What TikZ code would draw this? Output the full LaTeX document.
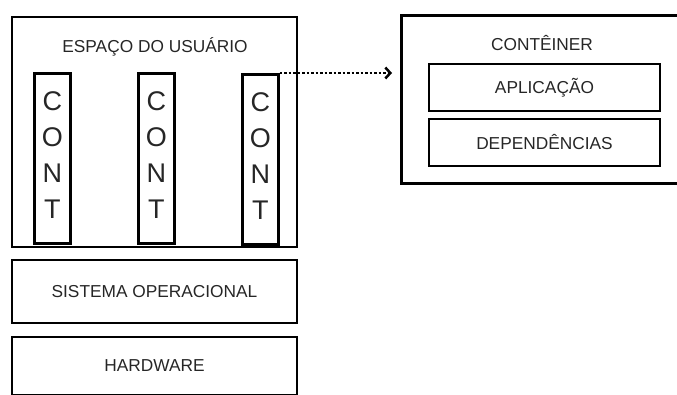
\documentclass[tikz,border=0pt]{standalone}
\usepackage{fontspec}
\setmainfont{Liberation Sans}
\usetikzlibrary{arrows.meta}

\begin{document}
\begin{tikzpicture}[x=1pt,y=-1pt,
  layer/.style={draw,line width=2.5pt,rectangle,inner sep=0pt,text=black!85,font=\fontsize{17.3}{20}\selectfont},
  cont/.style={draw,line width=2.5pt,inner sep=0pt,minimum width=36,align=center,text=black!85,
    font=\fontsize{27}{36}\selectfont,text height=145,text depth=25,anchor=north west},
  lbl/.style={text=black!85,font=\fontsize{17.3}{20}\selectfont,anchor=base,inner sep=0pt},
  link/.style={line width=2.5pt,dash pattern=on 2.5pt off 2pt,
    -{Straight Barb[length=5pt,width=11pt,line width=2.5pt]}}]
  \useasboundingbox (0,0) rectangle (677,394);
  \clip (0,0) rectangle (677,394);
  % host stack
  \node[layer,minimum width=285,minimum height=230] (user) at (154.5,132) {};
  \node[lbl] (userlbl) at (155,52) {ESPAÇO DO USUÁRIO};
  \node[cont] (c1) at (33,72) {C\\O\\N\\T};
  \node[cont] (c2) at (137,72) {C\\O\\N\\T};
  \node[cont] (c3) at (241,73) {C\\O\\N\\T};
  \node[layer,minimum width=285,minimum height=63] (os) at (154.5,291.5) {SISTEMA OPERACIONAL};
  \node[layer,minimum width=285,minimum height=58] (hw) at (154.5,366) {HARDWARE};
  % container detail
  \node[layer,minimum width=300,minimum height=168,anchor=north west] (box) at (400,14) {};
  \node[lbl] (boxlbl) at (542,50) {CONTÊINER};
  \node[layer,minimum width=231,minimum height=47] (app) at (544.5,87.5) {APLICAÇÃO};
  \node[layer,minimum width=231,minimum height=47] (dep) at (544.5,142.5) {DEPENDÊNCIAS};
  \coordinate (tip) at (392,73);
  \draw[link] (c3.north east) -- (tip);
\end{tikzpicture}
\end{document}
